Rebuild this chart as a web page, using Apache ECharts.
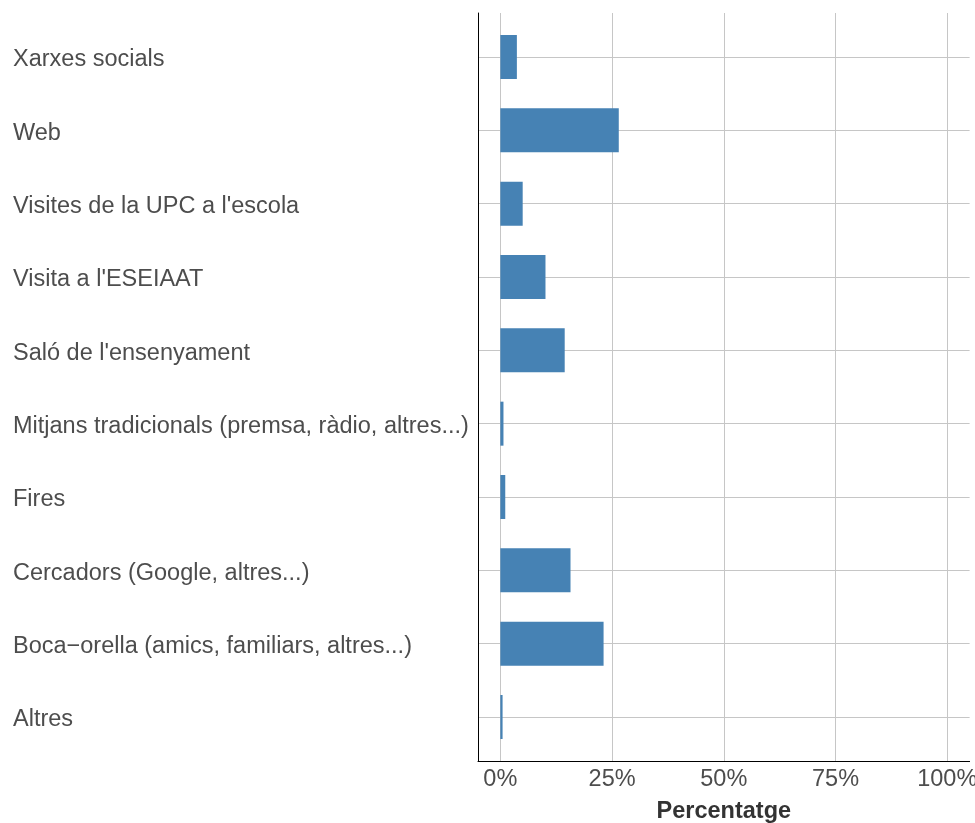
<!DOCTYPE html>
<html>
<head>
<meta charset="utf-8">
<script src="https://cdn.jsdelivr.net/npm/echarts@6/dist/echarts.min.js"></script>
<style>html,body{margin:0;padding:0;background:#fff}#c{width:975px;height:823px}</style>
</head>
<body>
<div id="c"></div>
<script>
const categories = ["Xarxes socials", "Web", "Visites de la UPC a l'escola", "Visita a l'ESEIAAT", "Saló de l'ensenyament", "Mitjans tradicionals (premsa, ràdio, altres...)", "Fires", "Cercadors (Google, altres...)", "Boca\u2212orella (amics, familiars, altres...)", "Altres"];
const percentages = [3.7, 26.5, 5.0, 10.1, 14.4, 0.7, 1.1, 15.7, 23.1, 0.5];
const xTicks = [0, 25, 50, 75, 100];
const catIndex = categories.map((c, i) => i);

(function () {
const chart = echarts.init(document.getElementById('c'), null, {renderer: 'canvas'});
const font = 'Liberation Sans, Arial, sans-serif';
const gTop = 13, gBottom = 62, H = 823 - gTop - gBottom;
const band = H / (categories.length - 1 + 1.2);
const pad = band * 0.1;
chart.setOption({
  animation: false,
  grid: [
    {left: 478, right: 5.4, top: gTop, bottom: gBottom, containLabel: false, outerBoundsMode: 'none'},
    {left: 478, right: 5.4, top: gTop + pad, bottom: gBottom + pad, containLabel: false, outerBoundsMode: 'none'}
  ],
  xAxis: [
    {
      type: 'value', min: -5, max: 105, gridIndex: 0,
      axisLine: {show: true, onZero: false, lineStyle: {color: '#000', width: 1}},
      axisTick: {show: false, customValues: xTicks},
      axisLabel: {customValues: xTicks, formatter: v => v + '%', color: '#4d4d4d', fontSize: 23.5, fontFamily: font, margin: 7},
      splitLine: {show: true, lineStyle: {color: '#c6c6c6', width: 1}},
      name: 'Percentatge', nameLocation: 'middle', nameGap: 39,
      nameTextStyle: {color: '#333', fontSize: 23.5, fontWeight: 'bold', fontFamily: font}
    },
    {type: 'value', min: -5, max: 105, gridIndex: 1, show: false}
  ],
  yAxis: [
    {
      type: 'value', min: -0.6, max: categories.length - 1 + 0.6, inverse: true, gridIndex: 0,
      axisLine: {show: true, onZero: false, lineStyle: {color: '#000', width: 1}},
      axisTick: {show: false, customValues: catIndex},
      splitLine: {show: true, lineStyle: {color: '#c6c6c6', width: 1}},
      axisLabel: {
        customValues: catIndex,
        formatter: v => '{l|' + categories[Math.round(v)] + '}',
        align: 'left', margin: 465,
        rich: {l: {padding: [6, 0, 0, 0], color: '#4d4d4d', fontSize: 23.5, fontFamily: font}},
        color: '#4d4d4d', fontSize: 23.5, fontFamily: font
      }
    },
    {type: 'category', data: categories, inverse: true, gridIndex: 1, show: false}
  ],
  series: [
    {
      type: 'bar', data: percentages, barWidth: '60%', xAxisIndex: 1, yAxisIndex: 1,
      itemStyle: {color: '#4682B4'}
    }
  ]
});
})();
</script>
</body>
</html>
